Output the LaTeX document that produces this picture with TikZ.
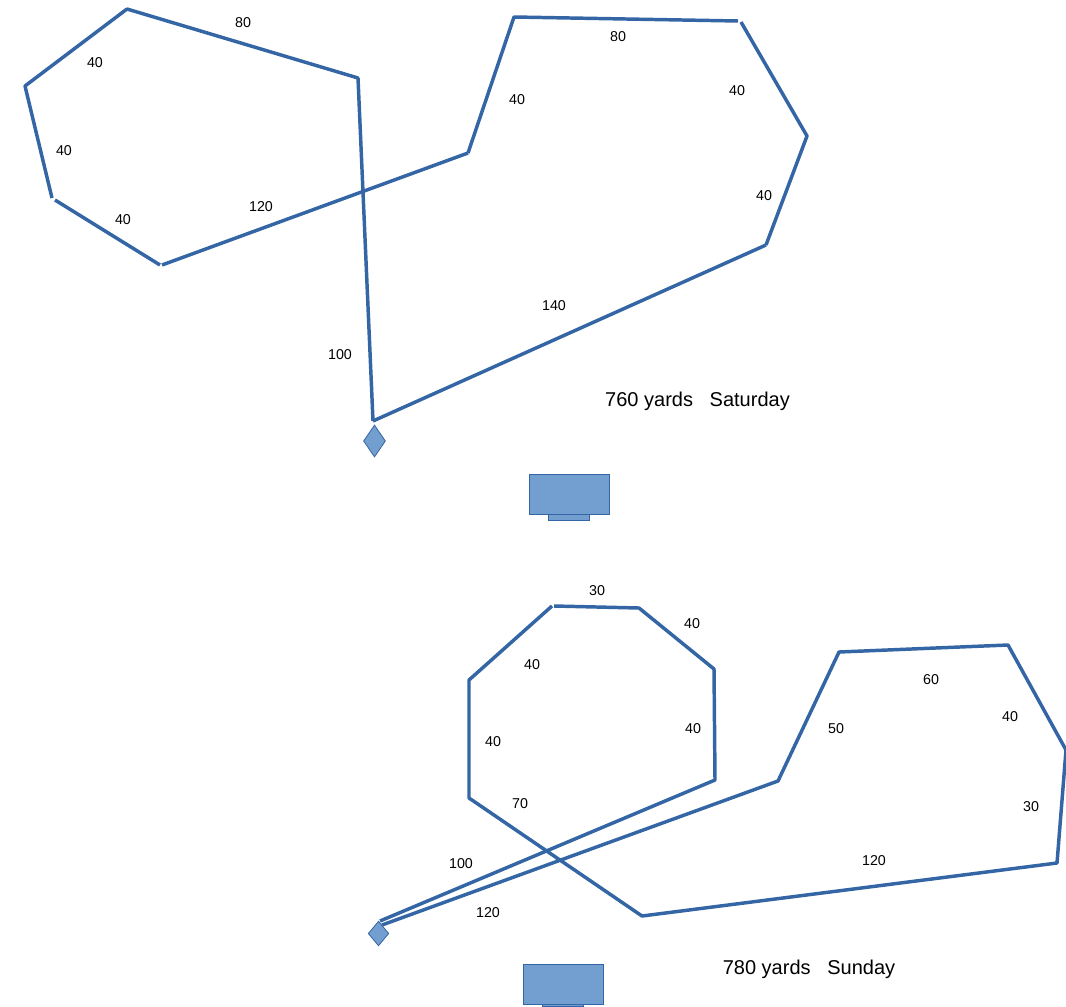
\documentclass[tikz,border=0pt]{standalone}
\usepackage{fontspec}
\setmainfont{Liberation Sans}
\usepackage{tikz}
\usetikzlibrary{shapes.geometric}
\definecolor{legblue}{HTML}{3465A4}
\definecolor{boxblue}{HTML}{729FCF}

\begin{document}
\begin{tikzpicture}[x=0.75pt,y=-0.75pt,font=\fontsize{10.7pt}{12pt}\selectfont,
  leg/.style={draw=legblue,line width=2.6pt},
  yards/.style={inner sep=0pt,yshift=-0.75pt},
  total/.style={inner sep=0pt,yshift=-1.2pt,font=\fontsize{15pt}{17pt}\selectfont},
  tee/.style={draw=legblue,fill=boxblue,line width=0.6pt,shape=diamond,inner sep=0pt},
  cart/.style={draw=legblue,fill=boxblue,line width=0.6pt,inner sep=0pt,minimum width=60pt,minimum height=30pt},
  cartbase/.style={draw=legblue,fill=boxblue,line width=0.6pt,inner sep=0pt,minimum width=31pt}]
  \useasboundingbox (0,0) rectangle (1066,1006);

  % Saturday
  \coordinate (a1) at (373,421);
  \coordinate (a2) at (358,78);
  \coordinate (a3) at (127,9);
  \coordinate (a4) at (25,86);
  \coordinate (a5) at (52,198);
  \coordinate (a6) at (55,200);
  \coordinate (a7) at (160,265);
  \coordinate (a8) at (162,265);
  \coordinate (a9) at (468,153);
  \coordinate (a10) at (514,17);
  \coordinate (a11) at (738,21);
  \coordinate (a12) at (741,22);
  \coordinate (a13) at (807,136);
  \coordinate (a14) at (766,245);
  \draw[leg] (a1) -- (a2);
  \draw[leg,line cap=round] (a2) -- (a3);
  \draw[leg,line join=round] (a3) -- (a4) -- (a5);
  \draw[leg] (a6) -- (a7);
  \draw[leg] (a8) -- (a9);
  \draw[leg,line join=round] (a9) -- (a10) -- (a11);
  \draw[leg,line join=round] (a12) -- (a13) -- (a14);
  \draw[leg] (a14) -- (a1);

  \node[yards] (a100) at (340,354) {100};
  \node[yards] (a80) at (243,22) {80};
  \node[yards] (a40a) at (95,62) {40};
  \node[yards] (a40b) at (64,150) {40};
  \node[yards] (a40c) at (123,219) {40};
  \node[yards] (a120) at (261,206) {120};
  \node[yards] (a40d) at (517,99) {40};
  \node[yards] (a80b) at (618,36) {80};
  \node[yards] (a40e) at (737,90) {40};
  \node[yards] (a40f) at (764,195) {40};
  \node[yards] (a140) at (554,305) {140};
  \node[total] (sattotal) at (697.5,400) {760 yards\ \ \ Saturday};

  \node[tee,minimum width=16.5pt,minimum height=24pt,aspect=0.69] (sattee) at (374.5,441) {};
  \node[cartbase,minimum height=6pt] (satbase) at (569,516.5) {};
  \node[cart] (satcart) at (569.5,494) {};

  % Sunday
  \coordinate (b1) at (380,921);
  \coordinate (b2) at (715,780);
  \coordinate (b3) at (714,669);
  \coordinate (b4) at (639,608);
  \coordinate (b5) at (554,606);
  \coordinate (b6) at (552,606);
  \coordinate (b7) at (469,680);
  \coordinate (b8) at (469,798);
  \coordinate (b9) at (642,916);
  \coordinate (b10) at (1057,863);
  \coordinate (b11) at (1066,750);
  \coordinate (b12) at (1008,645);
  \coordinate (b13) at (839,652);
  \coordinate (b14) at (778,781);
  \coordinate (b15) at (382,925);
  \draw[leg,line join=round] (b1) -- (b2) -- (b3) -- (b4) -- (b5);
  \draw[leg,line join=round] (b6) -- (b7) -- (b8) -- (b9) -- (b10) -- (b11) -- (b12) -- (b13) -- (b14) -- (b15);

  \node[yards] (b30) at (597,590) {30};
  \node[yards] (b40a) at (692,623) {40};
  \node[yards] (b40b) at (532,664) {40};
  \node[yards] (b40c) at (693,728) {40};
  \node[yards] (b40d) at (493,741) {40};
  \node[yards] (b70) at (520,803) {70};
  \node[yards] (b100) at (461,863) {100};
  \node[yards] (b120) at (488,912) {120};
  \node[yards] (b50) at (836,728) {50};
  \node[yards] (b60) at (931,679) {60};
  \node[yards] (b40e) at (1010,716) {40};
  \node[yards] (b30b) at (1031,806) {30};
  \node[yards] (b120b) at (874,860) {120};
  \node[total] (suntotal) at (809,968) {780 yards\ \ \ Sunday};

  \node[tee,minimum width=15.5pt,minimum height=18.5pt,aspect=0.84] (suntee) at (378.5,933.5) {};
  \node[cartbase,minimum height=1.5pt] (sunbase) at (563,1005.5) {};
  \node[cart] (suncart) at (563.5,984.5) {};
\end{tikzpicture}
\end{document}
